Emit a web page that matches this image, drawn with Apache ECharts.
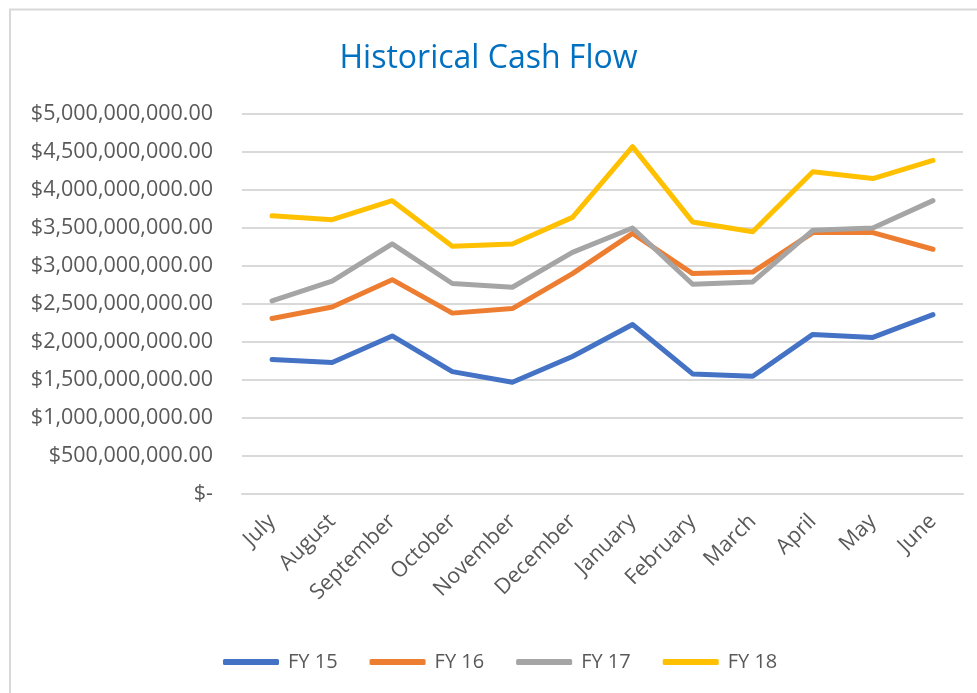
<!DOCTYPE html>
<html>
<head>
<meta charset="utf-8">
<script src="https://cdn.jsdelivr.net/npm/echarts@6/dist/echarts.min.js"></script>
<style>
  html, body { margin: 0; padding: 0; background: #ffffff; }
  #chart { width: 977px; height: 693px; }
</style>
</head>
<body>
<div id="chart"></div>
<script>
const months = ['July', 'August', 'September', 'October', 'November', 'December', 'January', 'February', 'March', 'April', 'May', 'June'];
const seriesNames = ['FY 15', 'FY 16', 'FY 17', 'FY 18'];
const fy15 = [1770000000, 1730000000, 2080000000, 1610000000, 1470000000, 1810000000, 2230000000, 1580000000, 1550000000, 2100000000, 2060000000, 2360000000];
const fy16 = [2310000000, 2460000000, 2820000000, 2380000000, 2440000000, 2900000000, 3430000000, 2900000000, 2920000000, 3440000000, 3440000000, 3220000000];
const fy17 = [2540000000, 2800000000, 3290000000, 2770000000, 2720000000, 3180000000, 3500000000, 2760000000, 2790000000, 3470000000, 3500000000, 3860000000];
const fy18 = [3660000000, 3610000000, 3860000000, 3260000000, 3290000000, 3640000000, 4570000000, 3580000000, 3450000000, 4240000000, 4150000000, 4390000000];
const seriesValues = [fy15, fy16, fy17, fy18];
const colors = ['#4472C4', '#ED7D31', '#A5A5A5', '#FFC000'];

function fmtMoney(v) {
  if (v === 0) return '$-';
  const parts = v.toFixed(2).split('.');
  const intPart = parts[0].replace(/\B(?=(\d{3})+(?!\d))/g, ',');
  return '$' + intPart + '.' + parts[1];
}

const chart = echarts.init(document.getElementById('chart'), null, { renderer: 'canvas' });
const font = 'Open Sans';
chart.setOption({
  backgroundColor: '#ffffff',
  animation: false,
  graphic: [{
    type: 'rect',
    shape: { x: 10, y: 9.5, width: 1000, height: 800 },
    style: { fill: 'none', stroke: '#D9D9D9', lineWidth: 2 },
    silent: true,
    z: -1
  }],
  title: {
    text: 'Historical Cash Flow',
    left: 'center',
    top: 38,
    textStyle: { fontFamily: font, fontSize: 32, fontWeight: 'normal', color: '#0070C0' }
  },
  grid: { left: 242, right: 14, top: 114, bottom: 199, containLabel: false },
  legend: {
    data: seriesNames,
    bottom: 16,
    left: 218,
    itemWidth: 56,
    itemHeight: 6,
    itemGap: 32,
    icon: 'roundRect',
    textStyle: { fontFamily: font, fontSize: 20, color: '#595959', padding: [0, 0, 0, 4] }
  },
  xAxis: {
    type: 'category',
    data: months,
    boundaryGap: true,
    axisLine: { show: true, lineStyle: { color: '#D9D9D9', width: 2 } },
    axisTick: { show: false },
    axisLabel: { rotate: 45, margin: 24, fontFamily: font, fontSize: 21.5, color: '#595959', interval: 0 }
  },
  yAxis: {
    type: 'value',
    min: 0,
    max: 5000000000,
    interval: 500000000,
    axisLine: { show: false },
    axisTick: { show: false },
    splitLine: { lineStyle: { color: '#D9D9D9', width: 2 } },
    axisLabel: { formatter: fmtMoney, margin: 29, fontFamily: font, fontSize: 21.5, color: '#595959' }
  },
  series: seriesNames.map((name, i) => ({
    name: name,
    type: 'line',
    data: seriesValues[i],
    symbol: 'none',
    lineStyle: { width: 5, color: colors[i], cap: 'round', join: 'round' },
    itemStyle: { color: colors[i] }
  }))
});
</script>
</body>
</html>
